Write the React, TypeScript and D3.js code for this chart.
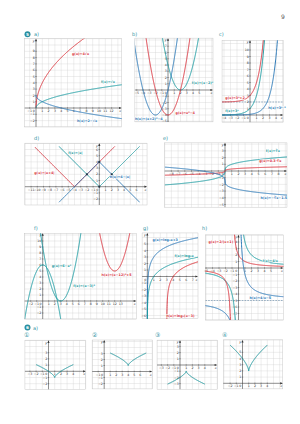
import React from "react";
import * as d3 from "d3";

const TEAL = "#1b9aa0";
const RED = "#d8343f";
const BLUE = "#2b78b6";
const HEAD = "#2a8fa0";
const tone: Record<string, string> = { teal: TEAL, red: RED, blue: BLUE };

type Piece = [number, number];
type Curve = { tone: string; fn: (x: number) => number; pieces: Piece[]; label?: string; at?: [number, number] };
type Ticks = { x: number[]; y: number[] };
type Frame = { ox: number; oy: number; u: number; x: [number, number]; y: [number, number] };

const cbrt = Math.cbrt;
const log2 = Math.log2;
const rng = (a: number, b: number) => d3.range(a, b + 1).filter((v) => v !== 0);

// ---- curves (function, drawn interval, label + anchor in data units) ----
const curvesA: Curve[] = [
  { tone: "red", fn: (x) => 4 * Math.sqrt(x), pieces: [[0, 8]], label: "g(x)=4√x", at: [5.7, 8.4] },
  { tone: "teal", fn: (x) => Math.sqrt(x), pieces: [[0, 14]], label: "f(x)=√x", at: [10.3, 3.9] },
  { tone: "blue", fn: (x) => 2 - Math.sqrt(x), pieces: [[0, 14]], label: "h(x)=2−√x", at: [6.5, -2.2] },
];
const curvesB: Curve[] = [
  { tone: "teal", fn: (x) => (x - 2) ** 2, pieces: [[-2, 6]], label: "f(x)=(x−2)²", at: [3.8, 1.0] },
  { tone: "red", fn: (x) => x * x - 4, pieces: [[-4, 4]], label: "g(x)=x²−4", at: [1.2, -3.8] },
  { tone: "blue", fn: (x) => (x + 2) ** 2 - 4, pieces: [[-6, 2]], label: "h(x)=(x+2)²−4", at: [-5.3, -4.8] },
];
const curvesC: Curve[] = [
  { tone: "red", fn: (x) => 3 ** x + 2, pieces: [[-5, 3]], label: "g(x)=3ˣ+2", at: [-3.8, 2.5] },
  { tone: "teal", fn: (x) => 3 ** x, pieces: [[-5, 3]], label: "f(x)=3ˣ", at: [-3.8, 0.5] },
  { tone: "blue", fn: (x) => 3 ** (x - 2), pieces: [[-5, 6]], label: "h(x)=3ˣ⁻²", at: [2.8, 0.9] },
];
const curvesD: Curve[] = [
  { tone: "red", fn: (x) => Math.abs(x + 4), pieces: [[-10.4, 2.5]], label: "g(x)=|x+4|", at: [-10.5, 2.0] },
  { tone: "teal", fn: (x) => Math.abs(x), pieces: [[-6.5, 6.5]], label: "f(x)=|x|", at: [-5, 5.2] },
  { tone: "blue", fn: (x) => 4 - Math.abs(x), pieces: [[-6.5, 6.5]], label: "h(x)=4−|x|", at: [1.7, 1.35] },
];
const curvesE: Curve[] = [
  { tone: "teal", fn: (x) => cbrt(x), pieces: [[-9, 9.3]], label: "f(x)=∛x", at: [6.1, 2.9] },
  { tone: "red", fn: (x) => 0.3 * cbrt(x), pieces: [[-9, 9.3]], label: "g(x)=0.3·∛x", at: [5.1, 1.4] },
  { tone: "blue", fn: (x) => -cbrt(x) - 1.5, pieces: [[-9, 9.3]], label: "h(x)=−∛x−1.5", at: [5.3, -4.2] },
];
const curvesF: Curve[] = [
  { tone: "teal", fn: (x) => 6 - x * x, pieces: [[-3.3, 3.3]], label: "g(x)=6−x²", at: [1.5, 5.6] },
  { tone: "teal", fn: (x) => (x - 3) ** 2, pieces: [[-1, 7]], label: "f(x)=(x−3)²", at: [5.1, 2.3] },
  { tone: "red", fn: (x) => (x - 12) ** 2 + 5, pieces: [[8, 16]], label: "h(x)=(x−12)²+5", at: [9.8, 4.2] },
];
const curvesG: Curve[] = [
  { tone: "blue", fn: (x) => log2(x) + 3, pieces: [[0.0001, 8]], label: "g(x)=log₂x+3", at: [0.8, 5.4] },
  { tone: "teal", fn: (x) => log2(x), pieces: [[0.0001, 8]], label: "f(x)=log₂x", at: [4.2, 3.0] },
  { tone: "red", fn: (x) => log2(x - 3), pieces: [[3.00001, 8]], label: "h(x)=log₂(x−3)", at: [2.9, -6.2] },
];
const curvesH: Curve[] = [
  { tone: "teal", fn: (x) => 4 / x, pieces: [[-6, -0.01], [0.01, 7]], label: "f(x)=4/x", at: [3.7, 1.0] },
  { tone: "red", fn: (x) => 2 / (x + 1), pieces: [[-6, -1.01], [-0.99, 7]], label: "g(x)=2/(x+1)", at: [-4.6, 3.8] },
  { tone: "blue", fn: (x) => 4 / x - 5, pieces: [[-6, -0.01], [0.01, 7]], label: "h(x)=4/x−5", at: [1.7, -4.7] },
];
const curvesQ1: Curve[] = [{ tone: "teal", fn: (x) => cbrt((x - 1) ** 2) - 1, pieces: [[-2, 4]] }];
const curvesQ2: Curve[] = [{ tone: "teal", fn: (x) => cbrt((x - 4) ** 2) + 1, pieces: [[1, 7]] }];
const curvesQ3: Curve[] = [{ tone: "teal", fn: (x) => -cbrt((x - 1) ** 2) - 1, pieces: [[-2, 4]] }];
const curvesQ4: Curve[] = [{ tone: "teal", fn: (x) => 2 * cbrt((x - 1) ** 2) + 2, pieces: [[-2, 4]] }];

// marked points and asymptotes
const dotsD: [number, number][] = [[-2, 2], [2, 2], [0, 4], [0, 0]];
const asymptoteC = [2];
const asymptoteH = [-5];

// tick labels
const ticksA: Ticks = { x: rng(-1, 12), y: rng(-2, 9) };
const ticksB: Ticks = { x: rng(-5, 5), y: rng(-5, 7) };
const ticksC: Ticks = { x: rng(-4, 4), y: rng(1, 10) };
const ticksD: Ticks = { x: rng(-11, 6), y: rng(-2, 6) };
const ticksE: Ticks = { x: rng(-8, 8), y: rng(-5, 3) };
const ticksF: Ticks = { x: rng(-2, 13), y: rng(-2, 10) };
const ticksG: Ticks = { x: rng(1, 7), y: rng(-6, 5) };
const ticksH: Ticks = { x: rng(-5, 5), y: rng(-7, 4) };
const ticksQ1: Ticks = { x: rng(-3, 4), y: rng(-2, 3) };
const ticksQ2: Ticks = { x: rng(-1, 6), y: rng(-2, 3) };
const ticksQ3: Ticks = { x: rng(-3, 4), y: rng(-3, 3) };
const ticksQ4: Ticks = { x: rng(-2, 4), y: rng(1, 5) };

// ---- layout: origin in px, px per unit, visible grid extent in units ----
const frames: Record<string, Frame> = {
  a: { ox: 36, oy: 108, u: 6.3, x: [-1.8, 13.6], y: [-3.0, 11] },
  b: { ox: 168, oy: 90, u: 6.25, x: [-5.3, 7.2], y: [-5.1, 8.3] },
  c: { ox: 250, oy: 115, u: 6.5, x: [-4.3, 5.1], y: [-1.1, 11.5] },
  d: { ox: 99.3, oy: 186.7, u: 6.2, x: [-12, 7.7], y: [-2.95, 7] },
  e: { ox: 225, oy: 171, u: 6.7, x: [-9, 9.25], y: [-5.4, 4.2] },
  f: { ox: 42.7, oy: 301, u: 6, x: [-3, 15.6], y: [-3, 11.3] },
  g: { ox: 147.3, oy: 276.5, u: 6.5, x: [-0.8, 7.8], y: [-6.5, 6.7] },
  h: { ox: 238.5, oy: 268, u: 6.5, x: [-5.1, 6.9], y: [-8, 5.1] },
  q1: { ox: 48.5, oy: 371.3, u: 6.2, x: [-3.8, 6], y: [-2.9, 5] },
  q2: { ox: 104.2, oy: 371.5, u: 6, x: [-2, 8], y: [-2.9, 5.25] },
  q3: { ox: 180, oy: 365, u: 6.2, x: [-3.7, 6], y: [-3.9, 4] },
  q4: { ox: 242.5, oy: 383.3, u: 6.2, x: [-3.1, 6.5], y: [-0.9, 7] },
};

const FONT = "'DejaVu Sans', sans-serif";

type PanelProps = {
  id: string;
  curves: Curve[];
  ticks: Ticks;
  dots?: [number, number][];
  hlines?: number[];
};

const Panel = ({ id, curves, ticks, dots = [], hlines = [] }: PanelProps) => {
  const f = frames[id];
  const sx = d3.scaleLinear().domain([0, 1]).range([f.ox, f.ox + f.u]);
  const sy = d3.scaleLinear().domain([0, 1]).range([f.oy, f.oy - f.u]);
  const left = sx(f.x[0]);
  const right = sx(f.x[1]);
  const top = sy(f.y[1]);
  const bottom = sy(f.y[0]);
  const gx = d3.range(Math.ceil(f.x[0]), Math.floor(f.x[1]) + 1);
  const gy = d3.range(Math.ceil(f.y[0]), Math.floor(f.y[1]) + 1);
  const line = d3
    .line<[number, number]>()
    .x((d) => sx(d[0]))
    .y((d) => sy(d[1]));
  const clamp = (v: number) => Math.max(f.y[0] - 1, Math.min(f.y[1] + 1, v));
  const sample = (c: Curve, p: Piece) => {
    const n = 600;
    return d3.range(n + 1).map((i) => {
      const x = p[0] + ((p[1] - p[0]) * i) / n;
      return [x, clamp(c.fn(x))] as [number, number];
    });
  };
  return (
    <g>
      <defs>
        <clipPath id={`clip-${id}`}>
          <rect x={left} y={top} width={right - left} height={bottom - top} />
        </clipPath>
      </defs>
      <rect x={left} y={top} width={right - left} height={bottom - top} fill="#fff" stroke="#bbb" strokeWidth={0.4} />
      {gx.map((v) => (
        <line key={`gx${v}`} x1={sx(v)} x2={sx(v)} y1={top} y2={bottom} stroke="#cfcfcf" strokeWidth={0.35} />
      ))}
      {gy.map((v) => (
        <line key={`gy${v}`} x1={left} x2={right} y1={sy(v)} y2={sy(v)} stroke="#cfcfcf" strokeWidth={0.35} />
      ))}
      {/* axes */}
      <line x1={left} x2={right - 1} y1={sy(0)} y2={sy(0)} stroke="#333" strokeWidth={0.5} />
      <line x1={sx(0)} x2={sx(0)} y1={bottom} y2={top + 1} stroke="#333" strokeWidth={0.5} />
      <path d={`M${right},${sy(0)} l-2.6,-1.1 v2.2 z`} fill="#333" />
      <path d={`M${sx(0)},${top} l-1.1,2.6 h2.2 z`} fill="#333" />
      <g fontFamily={FONT} fontSize={3.2} fill="#333">
        {ticks.x.map((v) => (
          <g key={`tx${v}`}>
            <line x1={sx(v)} x2={sx(v)} y1={sy(0) - 0.8} y2={sy(0) + 0.8} stroke="#333" strokeWidth={0.35} />
            <text x={sx(v)} y={sy(0) + 4} textAnchor="middle">
              {v < 0 ? `−${-v}` : v}
            </text>
          </g>
        ))}
        {ticks.y.map((v) => (
          <g key={`ty${v}`}>
            <line x1={sx(0) - 0.8} x2={sx(0) + 0.8} y1={sy(v)} y2={sy(v)} stroke="#333" strokeWidth={0.35} />
            <text x={sx(0) - 1.3} y={sy(v) + 1.1} textAnchor="end">
              {v < 0 ? `−${-v}` : v}
            </text>
          </g>
        ))}
        <text x={sx(0) - 1.1} y={sy(0) + 4} textAnchor="end">0</text>
        <text x={right - 1.5} y={sy(0) + 4} textAnchor="middle" fontStyle="italic">x</text>
        <text x={sx(0) - 1.4} y={top + 3.2} textAnchor="end" fontStyle="italic">y</text>
      </g>
      <g clipPath={`url(#clip-${id})`}>
        {hlines.map((v) => (
          <line key={`h${v}`} x1={left} x2={right} y1={sy(v)} y2={sy(v)} stroke="#5f87a8" strokeWidth={0.6} strokeDasharray="1.6,1.2" />
        ))}
        {curves.map((c, i) =>
          c.pieces.map((p, j) => (
            <path key={`c${i}-${j}`} d={line(sample(c, p)) || ""} fill="none" stroke={tone[c.tone]} strokeWidth={1} strokeLinejoin="round" />
          ))
        )}
        {dots.map((d, i) => (
          <circle key={`d${i}`} cx={sx(d[0])} cy={sy(d[1])} r={1.1} fill="#234" />
        ))}
      </g>
      <g fontFamily={FONT} fontSize={3.4} fontWeight={600}>
        {curves
          .filter((c) => c.label)
          .map((c, i) => (
            <text
              key={`l${i}`}
              x={sx(c.at![0])}
              y={sy(c.at![1])}
              fill={tone[c.tone]}
              stroke="#fff"
              strokeWidth={1}
              paintOrder="stroke"
            >
              {c.label}
            </text>
          ))}
      </g>
    </g>
  );
};

const letters: [string, number, number][] = [
  ["a)", 34, 36],
  ["b)", 132, 36],
  ["c)", 219, 36],
  ["d)", 34, 140],
  ["e)", 163, 140],
  ["f)", 34, 230],
  ["g)", 143, 230],
  ["h)", 202, 230],
];
const circled: [string, number, number][] = [
  ["①", 24, 337],
  ["②", 92, 337],
  ["③", 155, 337],
  ["④", 222, 337],
];

export default function App() {
  return (
    <svg width={300} height={424} viewBox="0 0 300 424" style={{ display: "block", margin: "-8px", background: "#fff" }}>
      <rect width={300} height={424} fill="#fff" />
      <text x={281} y={19} fontFamily={FONT} fontSize={6} fill="#555">9</text>

      <circle cx={27.5} cy={34.3} r={3} fill={HEAD} />
      <text x={27.5} y={35.9} fontFamily={FONT} fontSize={4.2} fontWeight="bold" fill="#fff" textAnchor="middle">5</text>
      <circle cx={27.5} cy={327.5} r={3} fill={HEAD} />
      <text x={27.5} y={329.1} fontFamily={FONT} fontSize={4.2} fontWeight="bold" fill="#fff" textAnchor="middle">6</text>
      <text x={33} y={329.5} fontFamily={FONT} fontSize={5} fill={HEAD}>a)</text>

      {letters.map(([t, x, y]) => (
        <text key={t} x={x} y={y} fontFamily={FONT} fontSize={5} fill={HEAD}>{t}</text>
      ))}
      {circled.map(([t, x, y]) => (
        <text key={t} x={x} y={y} fontFamily={FONT} fontSize={6} fill={HEAD}>{t}</text>
      ))}

      <Panel id="a" curves={curvesA} ticks={ticksA} />
      <Panel id="b" curves={curvesB} ticks={ticksB} />
      <Panel id="c" curves={curvesC} ticks={ticksC} hlines={asymptoteC} />
      <Panel id="d" curves={curvesD} ticks={ticksD} dots={dotsD} />
      <Panel id="e" curves={curvesE} ticks={ticksE} />
      <Panel id="f" curves={curvesF} ticks={ticksF} />
      <Panel id="g" curves={curvesG} ticks={ticksG} />
      <Panel id="h" curves={curvesH} ticks={ticksH} hlines={asymptoteH} />
      <Panel id="q1" curves={curvesQ1} ticks={ticksQ1} />
      <Panel id="q2" curves={curvesQ2} ticks={ticksQ2} />
      <Panel id="q3" curves={curvesQ3} ticks={ticksQ3} />
      <Panel id="q4" curves={curvesQ4} ticks={ticksQ4} />
    </svg>
  );
}
